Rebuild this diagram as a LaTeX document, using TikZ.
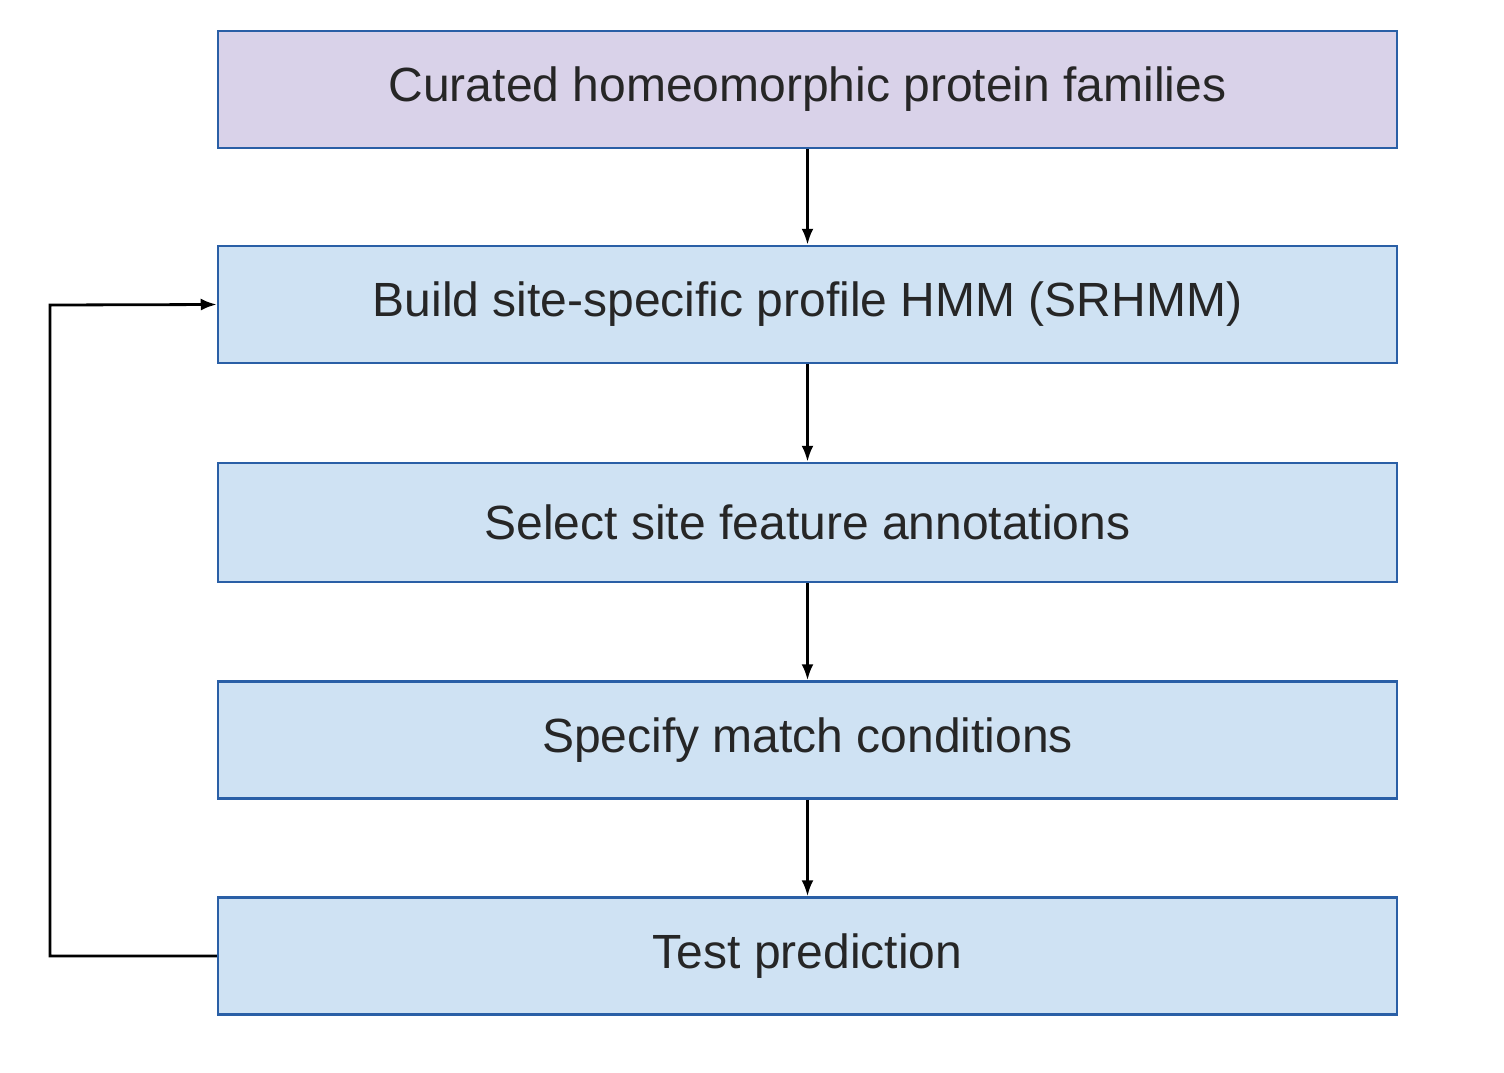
\documentclass[tikz,border=0pt]{standalone}
\usepackage{fontspec}
\setmainfont{Liberation Sans}
\usetikzlibrary{arrows.meta}
\definecolor{purplefill}{HTML}{D9D2E9}
\definecolor{bluefill}{HTML}{CFE2F3}
\definecolor{boxborder}{HTML}{2A5FA6}
\begin{document}
\begin{tikzpicture}[x=1pt,y=-1pt,
  stepbox/.style={draw=boxborder, line width=2.5pt, minimum width=1179pt, minimum height=117pt, inner sep=0pt, font=\fontsize{48}{56}\selectfont, text=black!85},
  conn/.style={line width=2.8pt, -{Latex[length=16pt,width=12pt]}}]
\useasboundingbox (0,0) rectangle (1504,1072);
\node[stepbox, fill=purplefill] (a) at (807.5,89.5) {Curated homeomorphic protein families};
\node[stepbox, fill=bluefill] (b) at (807.5,304.5) {Build site-specific profile HMM (SRHMM)};
\node[stepbox, fill=bluefill, minimum height=119pt] (c) at (807.5,522.5) {Select site feature annotations};
\node[stepbox, fill=bluefill] (d) at (807.5,740) {Specify match conditions};
\node[stepbox, fill=bluefill] (e) at (807.5,956) {Test prediction};
\coordinate (fb1) at (50,956);
\coordinate (fb2) at (50,305);
\draw[conn] (a) -- (b);
\draw[conn] (b) -- (c);
\draw[conn] (c) -- (d);
\draw[conn] (d) -- (e);
\draw[conn] (e.west) -- (fb1) -- (fb2) -- (b.west);
\end{tikzpicture}
\end{document}
